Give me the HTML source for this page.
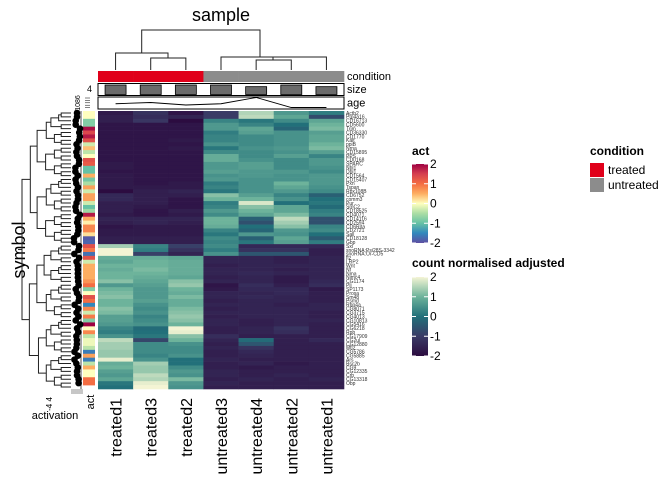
<!DOCTYPE html>
<html><head><meta charset="utf-8">
<style>
html,body{margin:0;padding:0;background:#fff;}
svg{display:block;font-family:"Liberation Sans",sans-serif;}
</style></head>
<body>
<svg id="chart" width="672" height="480" viewBox="0 0 672 480">
<text x="221" y="21" font-size="18" text-anchor="middle">sample</text>
<text transform="translate(25,250) rotate(-90)" font-size="18" text-anchor="middle">symbol</text>
<g id="coldend" stroke="#222" fill="none" stroke-width="1"></g>
<g id="annot"></g>
<g id="rowdend" stroke="#222" fill="none" stroke-width="1"></g>
<g id="cells"></g>
<g id="actcol"></g>
<g id="dots"></g>
<g id="rowlabels" font-size="5" fill="#333"></g>
<g id="collabels" font-size="16"></g>
<text x="55" y="419" font-size="11" text-anchor="middle">activation</text>
<text transform="translate(94,402) rotate(-90)" font-size="11" text-anchor="middle">act</text>
<text transform="translate(52,404) rotate(-90)" font-size="8" text-anchor="middle">-4 4</text>
<g id="legends"></g>
</svg>
<script>
const samples = ["treated1","treated3","treated2","untreated3","untreated4","untreated2","untreated1"];
const conditions = ["treated","treated","treated","untreated","untreated","untreated","untreated"];
const sizes = [4,4,4,4,3.3,4,3.3];
const ages = [3,4,2,3,8,0,0];
const symbols = ["Actb2","Ptp4a16","CD16713","CD5600","Trim","CD36330","CD1770","Kalt","ppiB","Nrna","CD15895","PPS","CD0168","SPARC","Nbl1","Dbl1","CD1564","CD15407","Pxn","Tspan","Rbx108B","CD6752","comm3","Pur","SmC2","CD18525","CD4071","CD14116","CD2594","CD6Rda","CD2721","Sall","CD18128","Gbp","Sxl","snoRNA:Psi28S-3342","snoRNA:Or-CD5","ftz","LRP2","Wnt","Nf","Nma","Nimc4","CG1174","Pli","SP1173","Prosa","Sm48","Psmd","Rbp4a","CG8071","CG3715","CG4013","CG10813","CG5416","CG6218","Rpb","CG17909","CG2ul","CG12880","Mtl2","CG5786","CG5885","Ars","Bsc2b","CG9","CG12335","Crb","CG13318","Obp"];
const act = [0,0,-0.8,-0.8,1.9,1.4,1.8,1.3,-0.3,0.4,-0.4,0,1.3,1.2,-1,-1,0.5,-0.9,-0.5,0.6,-0.3,0.6,0.6,-0.3,-1,-0.6,1.8,0.5,0.1,0.8,0.8,0.2,-1.9,-1.8,1.3,0.9,-1.7,1.3,-0.3,0.5,0.5,0.5,0.5,0.7,1,-0.8,0,1.3,1,-1.5,0.8,-0.3,0.9,-0.8,2,0,0.8,-0.4,-0.1,-0.1,-0.4,-1.6,0.6,-1.6,-0.4,0.5,0,0,1,1];
const counts = [
[-1.7,-1.2,-1.8,-1.0,1.5,0.6,0.2],[-1.6,-1.3,-1.5,-1.0,1.6,0.8,-0.7],[-1.6,-1.1,-2.0,0.3,0.1,0.4,0.8],[-1.8,-1.8,-1.8,0.6,0.3,0.0,1.0],
[-1.8,-1.8,-1.8,0.6,0.8,-0.2,1.1],[-1.8,-1.8,-1.8,0.2,0.7,0.5,0.7],[-1.8,-1.8,-1.8,0.3,0.4,0.5,0.8],[-1.8,-1.8,-1.7,0.3,0.4,0.5,0.8],
[-1.8,-1.8,-1.8,0.5,0.4,0.5,1.0],[-1.8,-1.8,-1.7,0.1,0.5,0.6,1.1],[-1.8,-1.8,-1.8,0.4,0.4,0.5,0.7],[-1.8,-1.8,-1.8,0.9,0.4,0.7,0.3],
[-1.8,-1.8,-1.8,0.9,0.5,0.4,0.6],[-1.7,-1.8,-1.8,0.6,0.7,0.4,0.6],[-1.7,-1.8,-1.8,0.6,0.7,0.4,0.5],[-1.8,-1.8,-1.8,0.7,0.6,0.6,0.4],
[-1.7,-1.8,-1.8,0.5,0.6,0.5,0.6],[-1.7,-1.8,-1.8,0.6,0.5,0.5,0.6],[-1.7,-1.8,-1.7,0.2,0.5,1.0,0.6],[-1.7,-1.7,-1.7,0.3,0.5,0.8,0.5],
[-2.0,-1.6,-1.5,0.1,0.5,0.6,0.4],[-1.4,-1.6,-1.6,1.2,0.7,0.3,-0.3],[-1.4,-1.6,-1.8,1.0,1.0,0.5,0.0],[-1.6,-1.6,-1.8,0.2,1.8,0.0,0.1],
[-1.6,-1.7,-1.8,0.3,1.2,0.8,-0.1],[-1.6,-1.8,-1.6,0.6,1.0,0.8,0.2],[-1.7,-1.8,-1.7,0.4,0.8,1.1,0.3],[-1.5,-1.5,-1.5,1.0,-0.3,1.6,-0.6],
[-1.6,-1.5,-1.6,1.0,-0.6,1.4,-0.6],[-1.8,-1.7,-1.7,0.9,0.0,1.2,0.3],[-1.7,-1.7,-1.7,0.3,-0.2,0.6,0.4],[-1.7,-1.7,-1.7,0.1,0.6,0.5,0.0],
[-1.6,-1.6,-1.6,0.4,-0.3,0.8,-0.4],[-1.6,-1.6,-1.6,0.3,0.1,0.7,0.2],
[1.4,0.3,-0.9,0.4,-1.4,-1.4,-1.4],[2.0,0.2,-1.2,0.2,-1.2,-1.2,-1.6],[2.0,-0.9,-1.5,0.5,-0.5,-0.5,-1.6],
[0.9,0.9,0.8,-1.5,-1.5,-1.6,-1.5],[0.8,1.0,0.9,-1.5,-1.5,-1.6,-1.5],[1.0,1.0,0.9,-1.6,-1.5,-1.5,-1.5],[0.9,1.1,0.9,-1.5,-1.5,-1.6,-1.5],
[1.0,1.0,0.9,-1.5,-1.4,-1.5,-1.5],[1.0,0.9,0.8,-1.6,-1.5,-1.7,-1.5],[1.2,0.8,1.2,-1.5,-1.5,-1.7,-1.4],[0.6,0.7,1.3,-1.8,-1.3,-1.6,-1.3],
[1.0,0.6,1.0,-1.7,-1.4,-1.4,-1.7],[1.1,0.6,0.9,-1.5,-1.5,-1.4,-1.6],[1.2,0.6,1.1,-1.5,-1.4,-1.5,-1.6],[1.0,0.7,0.9,-1.6,-1.5,-1.5,-1.6],
[1.0,0.5,0.9,-1.5,-1.5,-1.6,-1.5],[1.2,0.4,1.1,-1.6,-1.5,-1.5,-1.5],[1.1,0.5,1.2,-1.5,-1.5,-1.5,-1.6],[0.7,0.3,1.3,-1.6,-1.5,-1.5,-1.6],
[0.7,0.4,1.2,-1.5,-1.6,-1.5,-1.5],[0.6,0.5,1.0,-1.5,-1.6,-1.5,-1.6],[0.3,-0.1,2.0,-1.6,-1.5,-1.2,-1.6],[0.2,0.0,1.9,-1.6,-1.5,-1.3,-1.6],
[0.5,0.1,1.2,-1.3,-1.6,-1.6,-1.6],[1.6,-0.8,1.0,-1.5,-0.1,-1.6,-1.4],[1.4,0.4,0.5,-1.6,-0.5,-1.6,-1.6],[1.4,0.4,0.4,-1.5,-1.2,-1.6,-1.6],
[1.3,0.4,0.4,-1.6,-1.4,-1.6,-1.6],[1.3,0.3,0.5,-1.6,-1.5,-1.6,-1.6],[1.9,0.5,0.0,-1.5,-1.6,-1.6,-1.6],[0.9,1.4,0.0,-1.6,-1.5,-1.7,-1.6],
[1.0,1.3,0.4,-1.6,-1.7,-1.6,-1.6],[0.7,1.3,0.6,-1.5,-1.6,-1.6,-1.6],[0.6,1.6,0.5,-1.5,-1.6,-1.5,-1.6],[0.8,1.5,1.1,-1.6,-1.5,-1.6,-1.5],
[0.1,1.9,0.6,-1.5,-1.6,-1.6,-1.6],[0.0,2.0,0.5,-1.6,-1.6,-1.6,-1.6]];

const NS="http://www.w3.org/2000/svg";
function mk(tag,attrs,parent){const e=document.createElementNS(NS,tag);for(const k in attrs)e.setAttribute(k,attrs[k]);parent.appendChild(e);return e;}
function lerp(a,b,t){return Math.round(a+(b-a)*t);}
function hex(h){return [parseInt(h.slice(1,3),16),parseInt(h.slice(3,5),16),parseInt(h.slice(5,7),16)];}
function scale(stops,v){v=Math.max(stops[0][0],Math.min(stops[stops.length-1][0],v));
 for(let i=0;i<stops.length-1;i++){if(v<=stops[i+1][0]){const t=(v-stops[i][0])/(stops[i+1][0]-stops[i][0]);const a=hex(stops[i][1]),b=hex(stops[i+1][1]);return `rgb(${lerp(a[0],b[0],t)},${lerp(a[1],b[1],t)},${lerp(a[2],b[2],t)})`;}}return stops[stops.length-1][1];}
const countStops=[[-2,"#2c0c40"],[-1,"#3a3b66"],[0,"#22707a"],[1,"#6db39b"],[2,"#f4f4d4"]];
const actStops=[[-2,"#5e4fa2"],[-1.5,"#3288bd"],[-1,"#66c2a5"],[-0.5,"#abdda4"],[0,"#ffffbf"],[0.5,"#fdae61"],[1,"#f46d43"],[1.5,"#d53e4f"],[2,"#9e0142"]];

const X0=98,X1=344,Y0=111,Y1=389;
const cw=(X1-X0)/samples.length, rh=(Y1-Y0)/counts.length;
const xc=i=>X0+cw*(i+0.5), yr=r=>Y0+rh*r;

// cells
const cells=document.getElementById('cells');
counts.forEach((row,r)=>row.forEach((v,c)=>{
 const e=mk('rect',{x:X0+cw*c,y:yr(r),width:cw+0.3,height:rh+0.3,fill:scale(countStops,v)},cells);
 
 
}));
// act column + dots
const ag=document.getElementById('actcol'), dg=document.getElementById('dots');
mk('line',{x1:81,y1:Y0,x2:81,y2:Y1,stroke:"#888","stroke-width":1.5},dg);
act.forEach((v,r)=>{
 const e=mk('rect',{x:83,y:yr(r),width:12,height:rh+0.3,fill:scale(actStops,v)},ag);
 
 
 const d=mk('circle',{cx:77+v*1.6,cy:yr(r)+rh/2,r:3.3,fill:"#000"},dg);
 
 
});
for(let k=0;k<6;k++)mk('line',{x1:72+k*2,y1:Y1,x2:72+k*2,y2:Y1+5,stroke:"#444","stroke-width":0.6},dg);
// row labels
const rl=document.getElementById('rowlabels');
symbols.forEach((s,r)=>{const t=mk('text',{x:346,y:yr(r)+rh*0.5+1.8},rl);t.textContent=s;
 
 });
// column labels
const cl=document.getElementById('collabels');
samples.forEach((s,i)=>{const t=mk('text',{transform:`translate(${xc(i)+6},398) rotate(-90)`,"text-anchor":"end"},cl);t.textContent=s;
 
 });
// annotations
const an=document.getElementById('annot');
conditions.forEach((c,i)=>{const e=mk('rect',{x:X0+cw*i,y:71,width:cw+0.3,height:11,fill:c==="treated"?"#e0001a":"#8c8c8c"},an);
 
 });
mk('rect',{x:X0,y:83.5,width:X1-X0,height:12,fill:"none",stroke:"#000","stroke-width":1},an);
sizes.forEach((s,i)=>{const h=s/4*9.5;const e=mk('rect',{x:xc(i)-10.5,y:94.5-h,width:21,height:h,fill:"#6b6b6b",stroke:"#000","stroke-width":0.8},an);
 
 });
mk('rect',{x:X0,y:97,width:X1-X0,height:12,fill:"none",stroke:"#000","stroke-width":1},an);
const ay=v=>107.5-v/8*10;
const al=mk('polyline',{points:ages.map((v,i)=>`${xc(i)},${ay(v)}`).join(' '),fill:"none",stroke:"#000","stroke-width":0.9},an);


[["condition",80],["size",93],["age",106.5]].forEach(([t,y])=>{const e=mk('text',{x:347,y:y,"font-size":11},an);e.textContent=t;
 
 });
const st=mk('text',{x:92,y:92,"font-size":9,"text-anchor":"end"},an);st.textContent="4";


for(let k=0;k<5;k++)mk('line',{x1:85,y1:98+k*2.4,x2:90,y2:98+k*2.4,stroke:"#000","stroke-width":0.5},an);
const atx=mk('text',{transform:"translate(80,103) rotate(-90)","font-size":7,"text-anchor":"middle"},an);atx.textContent="1086";



// column dendrogram
const cd=document.getElementById('coldend');
function seg(g,pts){mk('polyline',{points:pts.map(p=>p.join(',')).join(' ')},g);}
seg(cd,[[xc(0),70],[xc(0),53],[168,53],[168,58]]);
seg(cd,[[xc(1),70],[xc(1),58],[xc(2),58],[xc(2),70]]);
seg(cd,[[141.7,53],[141.7,30],[260,30],[260,57]]);
seg(cd,[[xc(3),70],[xc(3),57],[xc(6),57],[xc(6),70]]);
seg(cd,[[xc(4),70],[xc(4),60],[xc(5),60],[xc(5),70]]);
seg(cd,[[273,60],[273,57]]);

// row dendrogram
const rd=document.getElementById('rowdend');
function build(lo,hi){
 const n=hi-lo;
 if(n===1)return {x:71,y:yr(lo)+rh/2};
 const mid=(lo===0&&hi===counts.length)?34:lo+Math.ceil(n/2);
 const a=build(lo,mid),b=build(mid,hi);
 const x=Math.max(22,71-7.8*Math.log2(n)-(n%3));
 seg(rd,[[a.x,a.y],[x,a.y],[x,b.y],[b.x,b.y]]);
 return {x:x,y:(a.y+b.y)/2};
}
const root=build(0,counts.length);
seg(rd,[[root.x,root.y],[root.x-4,root.y]]);

// legends
const lg=document.getElementById('legends');
function gradLegend(id,stops,title,ty,by,name){
 const defs=mk('defs',{},lg);const gr=mk('linearGradient',{id:id,x1:0,y1:1,x2:0,y2:0},defs);
 stops.forEach(s=>mk('stop',{offset:((s[0]+2)/4*100)+"%","stop-color":s[1]},gr));
 const t=mk('text',{x:412,y:ty,"font-size":12,"font-weight":"bold"},lg);t.textContent=title;
 
 
 const r=mk('rect',{x:412,y:by,width:16,height:79,fill:`url(#${id})`},lg);
 
 
 [2,1,0,-1,-2].forEach((v,k)=>{const y=by+k*79/4;
  mk('line',{x1:412,y1:y,x2:416,y2:y,stroke:"#fff","stroke-width":1},lg);
  mk('line',{x1:424,y1:y,x2:428,y2:y,stroke:"#fff","stroke-width":1},lg);
  const tt=mk('text',{x:430,y:y+4,"font-size":12},lg);tt.textContent=v;
  
  });
}
gradLegend('actg',actStops,'act',155,164,'act-legend');
gradLegend('cntg',countStops,'count normalised adjusted',267,277,'count-legend');
const ct=mk('text',{x:590,y:155,"font-size":12,"font-weight":"bold"},lg);ct.textContent="condition";


[["treated","#e0001a",163],["untreated","#8c8c8c",178]].forEach(([t,c,y])=>{
 const r=mk('rect',{x:590,y:y,width:14,height:14,fill:c},lg);
 
 
 const tx=mk('text',{x:608,y:y+11,"font-size":12},lg);tx.textContent=t;
 
 
});
</script>
</body></html>
